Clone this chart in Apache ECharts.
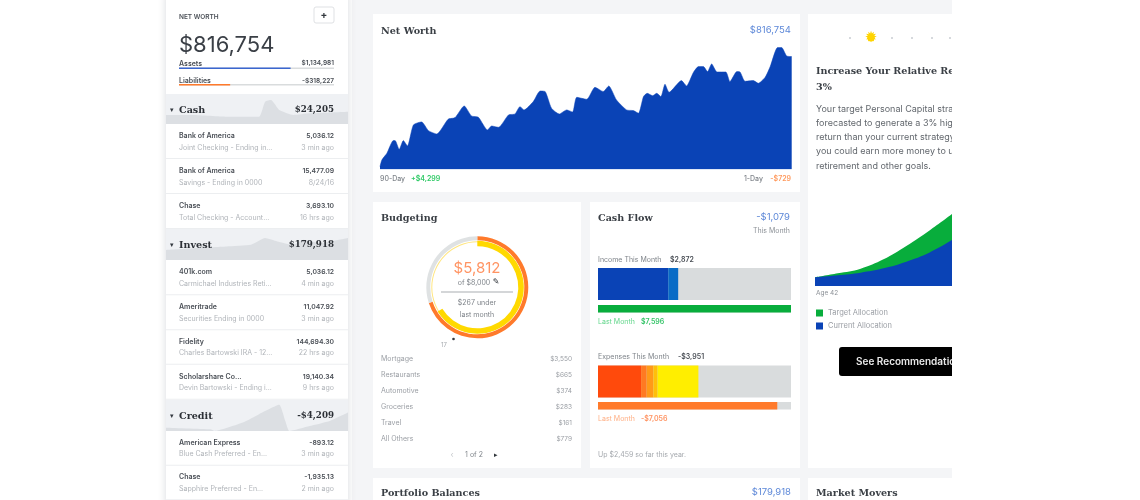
<!DOCTYPE html>
<html>
<head>
<meta charset="utf-8">
<style>
  html, body { margin: 0; padding: 0; background: #fff; }
  #chart { width: 1140px; height: 500px; filter: blur(0.75px); }
</style>
<script src="https://cdn.jsdelivr.net/npm/echarts@6/dist/echarts.min.js"></script>
</head>
<body>
<div id="chart"></div>
<script>
// Net worth, 90 days (no axis shown, values in $k)
const netWorthDays = [0, 0.4, 1.5, 2.9, 3.3, 4.2, 5.1, 6, 7.3, 9.1, 10.6, 12.4, 14.9, 16.4, 18.4, 20, 21.5, 23.5, 24.4, 25.9, 28.1, 29.5, 30.6, 31.5, 33.5, 35, 36.1, 37.5, 39.2, 40.8, 42.1, 43, 45.2, 47, 48.8, 50, 51.7, 53.9, 55.4, 56.5, 57.6, 58.4, 59.6, 60.5, 61.4, 62.3, 63.2, 65.9, 67, 68.5, 69.6, 70.7, 71.6, 72.5, 73.7, 75.6, 76.5, 78, 78.7, 79.8, 81.6, 82.7, 84.2, 85.3, 86.9, 87.8, 88.9, 90];
const netWorthValues = [722.3, 728, 733.7, 744.6, 744.6, 737.1, 744.6, 740, 758, 760.6, 753.1, 750.3, 762.9, 764.3, 774.3, 765.7, 764.6, 753.7, 757.1, 756, 766.6, 767.4, 773.7, 770.9, 778, 787.1, 786.6, 772.3, 767.4, 770.9, 769.1, 781.7, 780, 790.3, 786.6, 791.4, 779.4, 770.9, 770.3, 768, 782.3, 785.1, 783.1, 785.1, 782.3, 792.9, 786, 796, 791.4, 802.9, 808, 808, 803.7, 810.3, 803.4, 803.4, 795.1, 803.7, 803.4, 795.4, 796, 793.7, 798.9, 808, 824.3, 824.3, 817.1, 816.6];

// Cash flow bars
const cashFlowMax = 7596;
const incomeSegments = [2765, 391];
const incomeLast = [7596];
const expenseSegments = [1695, 222, 260, 170, 1604];
const expenseLast = [7056];

// Budget rings
const budgetRing = [5812, 2490];
const budgetInner = [5300, 2700];
const budgetNames = ['Mortgage', 'Restaurants', 'Automotive', 'Groceries', 'Travel', 'All Others'];
const budgetAmounts = ['$3,550', '$665', '$374', '$283', '$161', '$779'];

// Retirement projection
const projectionAges = [42, 46, 50, 54, 58, 62, 65];
const projectionTarget = [26, 38, 52, 80, 120, 166, 216];
const projectionCurrent = [26, 32, 40, 53, 73, 100, 138];

// Sidebar header sparklines
const cashSparkX = [0, 13.5, 30, 46, 49, 52, 56, 63, 71, 79, 90];
const cashSparkY = [27, 27, 22, 22, 67, 72, 42, 27, 32, 34, 37];
const investSparkX = [0, 13.5, 30, 42, 49, 55, 63, 68, 76, 90];
const investSparkY = [30, 35, 40, 45, 65, 55, 45, 60, 50, 65];
const creditSparkX = [0, 22, 24, 38, 46, 56, 59, 61, 71, 81, 90];
const creditSparkY = [10, 5, 0, 25, 50, 78, 30, 0, 15, 30, 55];

// Sidebar share lines (percent of the row)
const assetsShare = [72];
const liabilitiesShare = [33];

// Sidebar accounts
const cashAccounts = [
    ['Bank of America', 'Joint Checking - Ending in...', '5,036.12', '3 min ago'],
    ['Bank of America', 'Savings - Ending in 0000', '15,477.09', '8/24/16'],
    ['Chase', 'Total Checking - Account...', '3,693.10', '16 hrs ago']
];
const investAccounts = [
    ['401k.com', 'Carmichael Industries Reti...', '5,036.12', '4 min ago'],
    ['Ameritrade', 'Securities Ending in 0000', '11,047.92', '3 min ago'],
    ['Fidelity', 'Charles Bartowski IRA - 12...', '144,694.30', '22 hrs ago'],
    ['Scholarshare Co...', 'Devin Bartowski - Ending i...', '19,140.34', '9 hrs ago']
];
const creditAccounts = [
    ['American Express', 'Blue Cash Preferred - En...', '-893.12', '3 min ago'],
    ['Chase', 'Sapphire Preferred - En...', '-1,935.13', '2 min ago']
];

const adviceLines = [
    'Your target Personal Capital strategy is',
    'forecasted to generate a 3% higher',
    'return than your current strategy, so',
    'you could earn more money to use for',
    'retirement and other goals.'
];

const BLUE = '#0a43b6';
const GREEN = '#08ad3c';
const ORANGE = '#ff7a2b';
const TRACK = '#d9dcdd';
const SANS = 'Inter, sans-serif';
const SERIF = '"DejaVu Serif", serif';

let chart_dashboard = echarts.init(document.getElementById('chart'));

function label(x, y, text, color, size, opts) {
    let o = opts || {};
    return {
        type: 'text', x: x, y: y, z: o.z || 20, silent: true,
        style: {
            text: text, fill: color, fontSize: size,
            fontFamily: o.family || SANS, fontWeight: o.weight || 400,
            align: o.align || 'left', verticalAlign: 'middle'
        }
    };
}
function heading(x, y, text) {
    return label(x, y + 1, text, '#3a3f45', 9.6, {family: SERIF, weight: 700});
}
function box(x, y, w, h, fill, opts) {
    let o = opts || {};
    return {
        type: 'rect', z: o.z === undefined ? 1 : o.z, silent: true,
        shape: {x: x, y: y, width: w, height: h, r: o.r || 0},
        style: {fill: fill, stroke: o.stroke || null, lineWidth: 1, shadowBlur: o.blur || 0, shadowColor: '#d8dadd'}
    };
}

let graphics = [];
// page and cards
graphics.push(box(352, 0, 600, 500, '#f4f5f7', {z: -5}));
graphics.push(box(166, -6, 182, 512, '#ffffff', {z: -4, blur: 8}));
graphics.push(box(373, 14, 427, 178, '#ffffff', {z: -4}));
graphics.push(box(373, 202, 208, 266, '#ffffff', {z: -4}));
graphics.push(box(590, 202, 210, 266, '#ffffff', {z: -4}));
graphics.push(box(373, 478, 427, 30, '#ffffff', {z: -4}));
graphics.push(box(808, 14, 144, 454, '#ffffff', {z: -4}));
graphics.push(box(808, 478, 144, 30, '#ffffff', {z: -4}));

// sidebar top
graphics.push(label(179, 17, 'NET WORTH', '#4a4f56', 6.5, {weight: 600}));
graphics.push(box(314, 7, 20, 16, '#ffffff', {stroke: '#dfe1e4', r: 2, z: 5}));
graphics.push(label(324, 15, '+', '#33383e', 10, {align: 'center', weight: 700}));
graphics.push(label(179, 45, '$816,754', '#3a3f46', 22));
graphics.push(label(179, 63.5, 'Assets', '#4a4f56', 7, {weight: 600}));
graphics.push(label(334, 63.5, '$1,134,981', '#4a4f56', 6.5, {align: 'right', weight: 600}));
graphics.push(label(179, 81, 'Liabilities', '#4a4f56', 7, {weight: 600}));
graphics.push(label(334, 81, '-$318,227', '#4a4f56', 6.5, {align: 'right', weight: 600}));

// sidebar sections
function section(top, height, name, total, textY) {
    graphics.push(box(166, top, 182, height, '#eff1f4', {z: -3}));
    graphics.push(label(170, textY, '▾', '#33383e', 7));
    graphics.push(label(179, textY, name, '#2c3036', 9.6, {family: SERIF, weight: 700}));
    graphics.push(label(334, textY, total, '#2c3036', 8.7, {family: SERIF, weight: 700, align: 'right'}));
}
function accounts(rows, nameYs) {
    rows.forEach(function (row, i) {
        let y = nameYs[i];
        graphics.push(label(179, y, row[0], '#4a4f56', 7, {weight: 600}));
        graphics.push(label(179, y + 11.5, row[1], '#b0b4b9', 7));
        graphics.push(label(334, y, row[2], '#4a4f56', 6.8, {weight: 600, align: 'right'}));
        graphics.push(label(334, y + 11.5, row[3], '#b0b4b9', 7, {align: 'right'}));
        graphics.push(box(166, y + 22, 182, 1, '#eceef0', {z: 2}));
    });
}
section(94, 30, 'Cash', '$24,205', 110);
section(229, 31, 'Invest', '$179,918', 245);
section(400, 31, 'Credit', '-$4,209', 416);
accounts(cashAccounts, [136, 171, 206]);
accounts(investAccounts, [272.3, 307.3, 341.7, 376.7]);
accounts(creditAccounts, [442.7, 477.3]);

// net worth card
graphics.push(heading(381, 30, 'Net Worth'));
graphics.push(label(791, 30, '$816,754', '#5d88d8', 9.5, {align: 'right'}));
graphics.push(label(380, 179, '90-Day', '#7f848a', 7, {weight: 500}));
graphics.push(label(411, 179, '+$4,299', '#2fca66', 7, {weight: 600}));
graphics.push(label(763, 179, '1-Day', '#7f848a', 7, {weight: 500, align: 'right'}));
graphics.push(label(791, 179, '-$729', '#ff9a5e', 7, {weight: 600, align: 'right'}));

// budgeting card
graphics.push(heading(381, 217, 'Budgeting'));
graphics.push(label(477, 268, '$5,812', '#ff9463', 15, {align: 'center'}));
graphics.push(label(474, 283, 'of $8,000', '#7f848a', 7, {align: 'center'}));
graphics.push(label(496, 282, '✎', '#33383e', 8, {align: 'center', family: '"DejaVu Sans"'}));
graphics.push(box(441, 291.5, 72, 1, '#a9adb2', {z: 5}));
graphics.push(label(477, 302.5, '$267 under', '#7f848a', 7, {align: 'center'}));
graphics.push(label(477, 314.5, 'last month', '#7f848a', 7, {align: 'center'}));
graphics.push({type: 'circle', z: 5, silent: true, shape: {cx: 453.5, cy: 339, r: 1.3}, style: {fill: '#33383e'}});
graphics.push(label(444, 345, '17', '#a5a9ae', 6, {align: 'center'}));
budgetNames.forEach(function (name, i) {
    let y = 358.7 + i * 16.1;
    graphics.push(label(381, y, name, '#9a9ea4', 7));
    graphics.push(label(572, y, budgetAmounts[i], '#9a9ea4', 6.5, {align: 'right'}));
});
graphics.push(label(452, 455, '‹', '#c5c8cc', 8, {align: 'center'}));
graphics.push(label(474, 455, '1 of 2', '#7f848a', 7, {align: 'center'}));
graphics.push(label(496, 455, '▸', '#33383e', 7, {align: 'center'}));

// cash flow card
graphics.push(heading(598, 217, 'Cash Flow'));
graphics.push(label(790, 217, '-$1,079', '#5d88d8', 9.5, {align: 'right'}));
graphics.push(label(790, 231, 'This Month', '#8d9298', 7, {align: 'right'}));
graphics.push(label(598, 260, 'Income This Month', '#7f848a', 7));
graphics.push(label(670, 260, '$2,872', '#4a4f56', 7, {weight: 600}));
graphics.push(label(598, 322, 'Last Month', '#62d68b', 7));
graphics.push(label(641, 322, '$7,596', '#35c468', 7, {weight: 600}));
graphics.push(label(598, 357, 'Expenses This Month', '#7f848a', 7));
graphics.push(label(678, 357, '-$3,951', '#4a4f56', 7, {weight: 600}));
graphics.push(label(598, 419, 'Last Month', '#ffb086', 7));
graphics.push(label(641, 419, '-$7,056', '#ff9463', 7, {weight: 600}));
graphics.push(label(598, 455, 'Up $2,459 so far this year.', '#a5a9ae', 7));

// bottom cards
graphics.push(heading(381, 492, 'Portfolio Balances'));
graphics.push(label(791, 492, '$179,918', '#5d88d8', 9.5, {align: 'right'}));
graphics.push(heading(816, 492, 'Market Movers'));

// advice card
[850, 892, 912, 932, 950].forEach(function (x) {
    graphics.push({type: 'circle', z: 5, silent: true, shape: {cx: x, cy: 38, r: 1}, style: {fill: '#c9cdd2'}});
});
graphics.push({type: 'circle', z: 5, silent: true, shape: {cx: 871, cy: 38, r: 3.6}, style: {fill: '#ffd400'}});
graphics.push(label(871, 38, '✹', '#ffd400', 15, {align: 'center', family: '"DejaVu Sans"'}));
graphics.push(heading(816, 70, 'Increase Your Relative Return by'));
graphics.push(heading(816, 86, '3%'));
adviceLines.forEach(function (line, i) {
    graphics.push(label(816, 109 + i * 14.2, line, '#62676d', 9));
});
graphics.push(label(816, 293, 'Age ' + projectionAges[0], '#8d9298', 6.5));
graphics.push(box(839, 347, 130, 29, '#000000', {r: 3, z: 5}));
graphics.push(label(856, 362, 'See Recommendation', '#e9e9e9', 10, {weight: 600}));

// everything right of the card stops at the page edge
graphics.push(box(952, 0, 188, 500, '#ffffff', {z: 50}));

function hiddenAxis(index, min, max, type) {
    return {gridIndex: index, type: type || 'value', show: false, min: min, max: max};
}
function barGrid(top, height, left, width) {
    return {left: left, top: top, width: width, height: height};
}
function stackedBars(gridIndex, values, colors) {
    return values.map(function (value, i) {
        return {
            type: 'bar', xAxisIndex: gridIndex, yAxisIndex: gridIndex, stack: 'g' + gridIndex,
            barWidth: '100%', silent: true, data: [value],
            itemStyle: {color: colors[i]},
            showBackground: i === 0,
            backgroundStyle: {color: TRACK}
        };
    });
}
function spark(gridIndex, xs, ys) {
    return {
        type: 'line', xAxisIndex: gridIndex, yAxisIndex: gridIndex, silent: true,
        symbol: 'none', smooth: 0.15, z: 1,
        lineStyle: {width: 0}, areaStyle: {color: '#dcdfe3', opacity: 1},
        data: xs.map(function (x, i) { return [x, ys[i]]; })
    };
}
function ring(radius, values, colors) {
    return {
        type: 'pie', center: [477.3, 287.3], radius: radius, startAngle: 90,
        silent: true, label: {show: false}, labelLine: {show: false},
        data: values.map(function (value, i) {
            return {value: value, itemStyle: {color: colors[i]}};
        })
    };
}

let grids = [
    {left: 380, top: 40, width: 411.7, height: 129.3},
    barGrid(268, 32, 598, 193),
    barGrid(305, 7.5, 598, 193),
    barGrid(365.5, 32, 598, 193),
    barGrid(402, 7.5, 598, 193),
    {left: 815, top: 200, width: 137, height: 86},
    barGrid(67.5, 1.4, 179, 155),
    barGrid(84, 1.4, 179, 155),
    {left: 166, top: 94, width: 182, height: 30},
    {left: 166, top: 229, width: 182, height: 31},
    {left: 166, top: 400, width: 182, height: 31}
];

let option = {
    animation: false,
    grid: grids,
    graphic: {elements: graphics},
    legend: {
        left: 816, top: 309, orient: 'vertical', padding: 0, itemWidth: 7, itemHeight: 7, itemGap: 5,
        selectedMode: false, icon: 'rect',
        textStyle: {color: '#9a9ea4', fontSize: 7.5, fontFamily: SANS},
        data: ['Target Allocation', 'Current Allocation']
    },
    xAxis: [
        hiddenAxis(0, 0, 90),
        hiddenAxis(1, 0, cashFlowMax),
        hiddenAxis(2, 0, cashFlowMax),
        hiddenAxis(3, 0, cashFlowMax),
        hiddenAxis(4, 0, cashFlowMax),
        {gridIndex: 5, type: 'category', show: false, boundaryGap: false, data: projectionAges},
        hiddenAxis(6, 0, 100),
        hiddenAxis(7, 0, 100),
        hiddenAxis(8, 0, 90),
        hiddenAxis(9, 0, 90),
        hiddenAxis(10, 0, 90)
    ],
    yAxis: [
        hiddenAxis(0, 720, 830.8),
        {gridIndex: 1, type: 'category', show: false, data: ['income']},
        {gridIndex: 2, type: 'category', show: false, data: ['income last']},
        {gridIndex: 3, type: 'category', show: false, data: ['expenses']},
        {gridIndex: 4, type: 'category', show: false, data: ['expenses last']},
        hiddenAxis(5, 0, 258),
        {gridIndex: 6, type: 'category', show: false, data: ['assets']},
        {gridIndex: 7, type: 'category', show: false, data: ['liabilities']},
        hiddenAxis(8, 0, 90),
        hiddenAxis(9, 0, 92),
        hiddenAxis(10, 0, 92)
    ],
    series: [
        {
            name: 'Net Worth', type: 'line', xAxisIndex: 0, yAxisIndex: 0, silent: true,
            symbol: 'none', smooth: 0.2,
            lineStyle: {color: BLUE, width: 0.5}, areaStyle: {color: BLUE, opacity: 1},
            data: netWorthDays.map(function (day, i) { return [day, netWorthValues[i]]; })
        },
        ...stackedBars(1, incomeSegments, [BLUE, '#0a6cc6']),
        ...stackedBars(2, incomeLast, [GREEN]),
        ...stackedBars(3, expenseSegments, ['#ff4a0c', '#ff7a22', '#ff9a18', '#ffbf0a', '#ffee00']),
        ...stackedBars(4, expenseLast, [ORANGE]),
        ...stackedBars(6, assetsShare, ['#3a66cf']),
        ...stackedBars(7, liabilitiesShare, [ORANGE]),
        {
            name: 'Target Allocation', type: 'line', xAxisIndex: 5, yAxisIndex: 5, silent: true,
            symbol: 'none', smooth: 0.4, itemStyle: {color: GREEN},
            lineStyle: {width: 0}, areaStyle: {color: GREEN, opacity: 1},
            data: projectionTarget
        },
        {
            name: 'Current Allocation', type: 'line', xAxisIndex: 5, yAxisIndex: 5, silent: true,
            symbol: 'none', smooth: 0.4, z: 3, itemStyle: {color: BLUE},
            lineStyle: {width: 0}, areaStyle: {color: BLUE, opacity: 1},
            data: projectionCurrent
        },
        spark(8, cashSparkX, cashSparkY),
        spark(9, investSparkX, investSparkY),
        spark(10, creditSparkX, creditSparkY),
        ring([47, 51], budgetRing, [ORANGE, '#dfe2e3']),
        ring([45, 46], [1], ['#ffe680']),
        ring([41, 46.5], budgetInner, ['#ffd900', 'transparent'])
    ]
};
chart_dashboard.setOption(option);
</script>
</body>
</html>
